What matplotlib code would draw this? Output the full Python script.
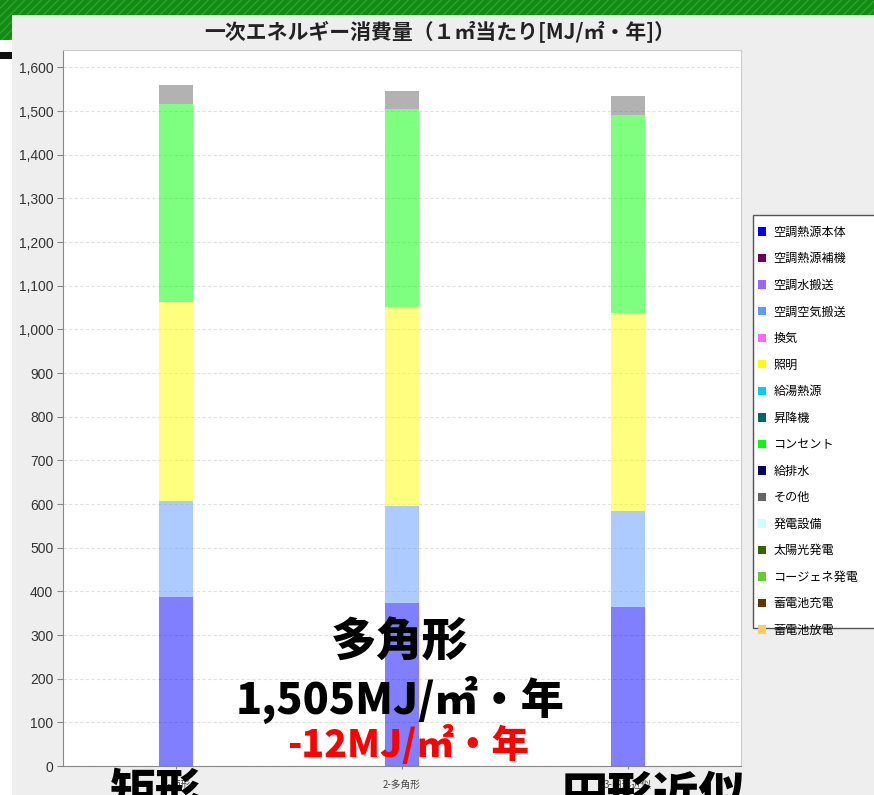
import numpy as np
import matplotlib
matplotlib.use('Agg')
import matplotlib.pyplot as plt
from matplotlib.patches import Rectangle, Patch
from matplotlib.ticker import FuncFormatter

plt.rcParams['font.family'] = ['Noto Sans CJK JP', 'DejaVu Sans']

# energy use per floor area [MJ/m2 yr], three building shapes
categories = ['1-矩形', '2-多角形', '3-円形近似']
heat_source = [387, 374, 364]     # 空調熱源本体
air_transport = [220, 222, 220]   # 空調空気搬送
lighting = [456, 456, 454]        # 照明
outlets = [454, 453, 454]         # コンセント
other = [43, 42, 43]              # その他

legend_names = ['空調熱源本体', '空調熱源補機', '空調水搬送', '空調空気搬送', '換気',
                '照明', '給湯熱源', '昇降機', 'コンセント', '給排水', 'その他',
                '発電設備', '太陽光発電', 'コージェネ発電', '蓄電池充電', '蓄電池放電']
legend_colors = ['#0000ff', '#660066', '#9966ff', '#5f99ff', '#ff66ff',
                 '#ffff00', '#00ccff', '#006666', '#00ff00', '#000066', '#666666',
                 '#ccffff', '#336600', '#66cc33', '#663300', '#ffcc66']

stack = [(heat_source, '#0000ff'), (air_transport, '#5f99ff'),
         (lighting, '#ffff00'), (outlets, '#00ff00'), (other, '#666666')]

W, H = 874, 795


def fx(x):
    return x / W


def fy(y):
    return 1 - y / H


fig = plt.figure(figsize=(W / 100, H / 100), dpi=100)
fig.patch.set_facecolor('white')

# slide background: grey panel, green striped band, left edge marks
fig.add_artist(Rectangle((fx(12), 0), 1, fy(15), transform=fig.transFigure,
                         facecolor='#eeeeee', edgecolor='none', zorder=-10))
fig.add_artist(Rectangle((0, fy(15)), 1, 15 / H, transform=fig.transFigure,
                         facecolor='#138a13', edgecolor='#2ea52e', lw=0,
                         hatch='////', zorder=-9))
fig.add_artist(Rectangle((0, fy(40)), fx(12), 40 / H, transform=fig.transFigure,
                         facecolor='#138a13', edgecolor='#2ea52e', lw=0,
                         hatch='////', zorder=-9))
fig.add_artist(Rectangle((0, fy(59)), fx(12), 7 / H, transform=fig.transFigure,
                         facecolor='#111111', edgecolor='none', zorder=-9))

ax = fig.add_axes([fx(63), fy(766), fx(741) - fx(63), fy(50) - fy(766)])
ax.set_facecolor('white')

x = np.arange(len(categories))
bottom = np.zeros(len(categories))
for vals, col in stack:
    ax.bar(x, vals, width=0.15, bottom=bottom, color=col, alpha=0.5,
           edgecolor='none', zorder=3)
    bottom += np.array(vals)

ax.set_xlim(-0.5, 2.5)
ax.set_ylim(0, 1640)
ax.set_yticks(range(0, 1601, 100))
ax.yaxis.set_major_formatter(FuncFormatter(lambda v, p: f'{int(v):,}'))
ax.grid(axis='y', color='#e2e2e2', linestyle=(0, (3, 2)), linewidth=0.8, zorder=0)
ax.set_xticks(x)
ax.set_xticklabels(categories, fontsize=7, color='#444444')
ax.tick_params(axis='x', length=2, color='#888888', pad=8)
ax.tick_params(axis='y', length=4, color='#888888', labelcolor='#333333', pad=3)
for lab in ax.get_yticklabels():
    lab.set_family('Liberation Sans')
    lab.set_fontsize(10)
for side in ['left', 'bottom']:
    ax.spines[side].set_color('#888888')
for side in ['top', 'right']:
    ax.spines[side].set_color('#cccccc')

fig.text(fx(440), fy(31), '一次エネルギー消費量（１㎡当たり[MJ/㎡・年]）',
         ha='center', va='center', fontsize=15, weight='bold', color='#222222')

# legend with its own frame
fig.add_artist(Rectangle((fx(753), fy(628)), 0.2, (628 - 215) / H,
                         transform=fig.transFigure, facecolor='white',
                         edgecolor='#555555', lw=1, zorder=4))
handles = [Patch(facecolor=c, edgecolor='none') for c in legend_colors]
leg = fig.legend(handles, legend_names, loc='upper left',
                 bbox_to_anchor=(fx(753), fy(221)), frameon=False,
                 fontsize=8.7, borderpad=0.4, borderaxespad=0,
                 handlelength=0.7, handleheight=0.7, handletextpad=0.6,
                 labelspacing=1.12)
leg.set_zorder(5)

# comparison annotation for the polygon plan
base_total = sum(v[0] for v, _ in stack[:4])
poly_total = sum(v[1] for v, _ in stack[:4])
big = dict(ha='center', va='center', weight=900, color='black', zorder=6)
fig.text(fx(400), fy(643), '多角形', fontsize=33, **big)
fig.text(fx(400), fy(700), f'{poly_total:,}MJ/㎡・年', fontsize=31, **big)
fig.text(fx(408), fy(745), f'{poly_total - base_total}MJ/㎡・年', fontsize=27,
         ha='center', va='center', weight=900, color='#ff0000', zorder=6)
fig.text(fx(156), fy(770), '矩形', fontsize=33, ha='center', va='top',
         weight=900, color='black', zorder=6)
fig.text(fx(653), fy(773), '円形近似', fontsize=33, ha='center', va='top',
         weight=900, color='black', zorder=6)

fig.savefig('out.png', dpi=100)
